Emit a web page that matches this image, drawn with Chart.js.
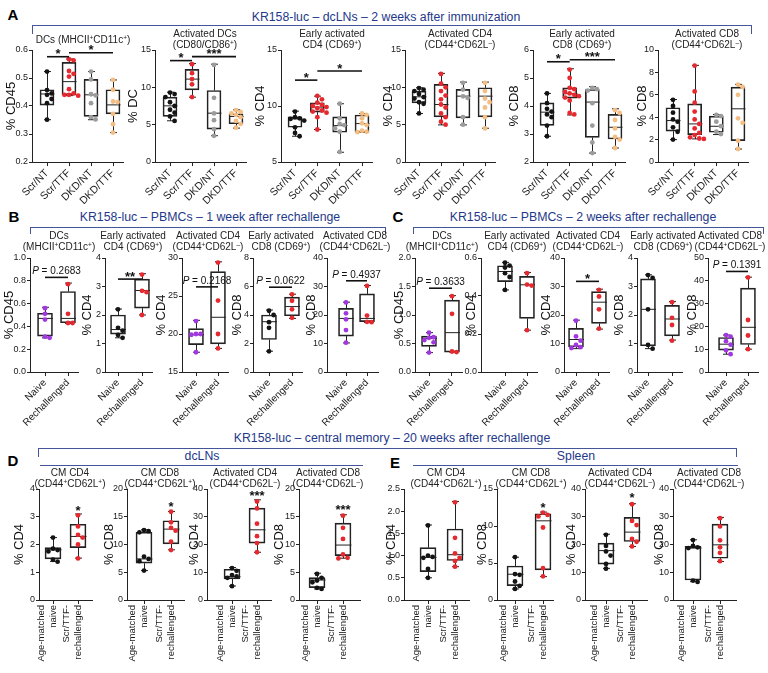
<!DOCTYPE html>
<html>
<head>
<meta charset="utf-8">
<script src="https://cdn.jsdelivr.net/npm/chart.js@4"></script>
<style>
  body { margin: 0; background: #fff; }
  #fig { position: relative; width: 768px; height: 673px; overflow: hidden;
         font-family: "Liberation Sans", Arial, sans-serif; }
  #fig canvas { position: absolute; }
  .t { position: absolute; white-space: nowrap; transform: translate(-50%, -50%); text-align: center; }
  .sub { font-size: 10px; line-height: 11px; color: #222; }
  .head { font-size: 12.3px; color: #24388a; }
  .let { font-size: 15px; font-weight: bold; color: #000; }
  .ln { position: absolute; background: #44559a; }
  sup { font-size: 6.5px; vertical-align: 3px; line-height: 0; }
</style>
</head>
<body>
<div id="fig"></div>
<script>
// ---- group labels ----
const groupsA = ['Scr/NT', 'Scr/TTF', 'DKD/NT', 'DKD/TTF'];
const groupsBC = ['Naive', 'Rechallenged'];
const groupsDE = [['Age-matched', 'naive'], ['Scr/TTF-', 'rechallenged']];

// ---- A: dcLNs, 2 weeks after immunization ----  box = [min, q1, median, q3, max]
const a1Ticks = ['0.2', '0.3', '0.4', '0.5', '0.6'];
const a1Box = [[0.351, 0.403, 0.443, 0.458, 0.523], [0.437, 0.44, 0.487, 0.556, 0.568],
               [0.351, 0.363, 0.44, 0.495, 0.523], [0.305, 0.372, 0.404, 0.458, 0.493]];
const a1Pts = [[0.523, 0.457, 0.445, 0.44, 0.425, 0.41, 0.351],
               [0.567, 0.563, 0.525, 0.515, 0.505, 0.46, 0.445, 0.44, 0.44, 0.437],
               [0.523, 0.495, 0.442, 0.438, 0.41, 0.36, 0.352],
               [0.493, 0.458, 0.416, 0.414, 0.372, 0.335, 0.305]];
const a1Sig = [[1, 2, 0.576, '*'], [2, 4, 0.59, '*']];

const a2Ticks = ['0', '5', '10', '15'];
const a2Box = [[5.52, 6.1, 7.52, 8.68, 9.35], [8.68, 9.66, 11.1, 12.4, 13.2],
               [3.52, 4.41, 6.54, 9.57, 13.1], [4.54, 5.12, 6.1, 6.46, 6.99]];
const a2Pts = [[9.3, 9.1, 8.7, 8.0, 7.5, 7.0, 6.6, 6.1, 5.5], [13.1, 11.9, 11.1, 10.4, 8.7],
               [13.0, 8.6, 6.5, 5.6, 4.4, 3.5], [6.95, 6.7, 6.5, 6.3, 6.0, 5.5, 5.1, 4.6]];
const a2Sig = [[1, 2, 13.58, '*'], [2, 4, 14.11, '***']];

const a3Ticks = ['5', '10', '15'];
const a3Box = [[7.3, 8.1, 8.85, 9.03, 9.54], [7.9, 9.45, 9.9, 10.28, 10.88],
               [5.87, 7.66, 8.25, 9.03, 10.2], [7.66, 7.66, 8.43, 9.2, 9.33]];
const a3Pts = [[9.5, 9.0, 8.9, 8.85, 8.7, 8.1, 7.6, 7.3],
               [10.9, 10.6, 10.3, 10.1, 10.0, 9.9, 9.8, 9.6, 9.5, 9.4, 9.0, 7.9],
               [10.2, 8.9, 8.4, 8.3, 8.0, 7.7, 5.9], [9.33, 9.2, 8.9, 8.45, 8.3, 7.8, 7.7, 7.66]];
const a3Sig = [[1, 2, 12.31, '*'], [2, 4, 13.12, '*']];

const a4Ticks = ['0', '5', '10', '15'];
const a4Box = [[6.49, 7.92, 8.73, 9.49, 9.94], [4.97, 6.04, 7.7, 10.39, 11.87],
               [4.97, 5.91, 8.82, 9.72, 10.7], [4.52, 6.04, 8.82, 9.94, 10.7]];
const a4Pts = [[9.9, 9.7, 9.5, 9.1, 8.7, 8.5, 8.0, 7.8, 6.5],
               [11.8, 10.5, 10.0, 9.5, 8.9, 8.4, 7.7, 7.3, 6.5, 6.0, 5.4, 5.0],
               [10.6, 9.7, 8.8, 8.6, 6.0, 5.0], [10.6, 9.5, 8.5, 8.0, 7.3, 6.0, 4.5]];
const a4Sig = [];

const a5Ticks = ['2', '3', '4', '5', '6'];
const a5Box = [[2.92, 3.31, 3.78, 4.11, 4.45], [3.68, 4.28, 4.44, 4.65, 5.33],
               [2.32, 2.88, 4.14, 4.59, 4.69], [2.5, 2.82, 3.24, 3.7, 3.9]];
const a5Pts = [[4.45, 4.1, 3.9, 3.8, 3.7, 3.6, 3.3, 2.92],
               [5.3, 5.0, 4.65, 4.6, 4.5, 4.45, 4.4, 4.35, 4.3, 4.2, 3.75, 3.7],
               [4.65, 4.6, 4.55, 4.1, 3.3, 2.7, 2.32], [3.85, 3.75, 3.5, 3.2, 2.9, 2.8, 2.5]];
const a5Sig = [[1, 2, 5.58, '*'], [2, 4, 5.65, '***']];

const a6Ticks = ['0', '2', '4', '6', '8', '10'];
const a6Box = [[2.0, 2.75, 3.7, 4.84, 5.58], [2.06, 2.45, 3.4, 5.19, 8.63],
               [2.45, 2.66, 3.19, 4.09, 4.24], [1.16, 1.91, 4.75, 6.69, 6.93]];
const a6Pts = [[5.55, 5.0, 4.4, 3.8, 3.6, 3.1, 2.7, 2.0],
               [8.6, 6.3, 5.3, 4.5, 3.8, 3.4, 3.0, 2.6, 2.4, 2.2, 2.1, 2.06],
               [4.2, 4.1, 3.6, 3.2, 2.7, 2.5], [6.9, 6.7, 6.0, 3.9, 3.5, 1.9, 1.16]];
const a6Sig = [];

// ---- B: PBMCs, 1 week after rechallenge ----
const b1Ticks = ['0.0', '0.2', '0.4', '0.6', '0.8', '1.0'];
const b1Box = [[0.3, 0.315, 0.47, 0.515, 0.568], [0.426, 0.432, 0.47, 0.706, 0.78]];
const b1Pts = [[0.56, 0.51, 0.46, 0.31, 0.3], [0.77, 0.51, 0.43, 0.43]];
const b1Sig = [[1, 2, 0.83, 'P = 0.2683']];

const b2Ticks = ['0', '1', '2', '3', '4'];
const b2Box = [[1.2, 1.33, 1.49, 2.0, 2.21], [2.0, 2.24, 2.86, 3.26, 3.45]];
const b2Pts = [[2.2, 1.55, 1.45, 1.3, 1.2], [3.42, 2.85, 2.8, 2.0]];
const b2Sig = [[1, 2, 3.26, '**']];

const b3Ticks = ['15', '20', '25', '30'];
const b3Box = [[17.6, 18.6, 19.9, 20.7, 21.8], [18.1, 18.7, 22.2, 28.2, 29.5]];
const b3Pts = [[21.7, 20.0, 20.0, 19.9, 17.6], [29.4, 24.4, 20.0, 18.1]];
const b3Sig = [[1, 2, 26.2, 'P = 0.2168']];

const b4Ticks = ['0', '2', '4', '6', '8'];
const b4Box = [[1.46, 2.28, 3.53, 4.0, 4.35], [3.76, 3.95, 4.59, 5.25, 5.46]];
const b4Pts = [[4.3, 4.0, 3.5, 3.1, 1.45], [5.45, 5.0, 4.4, 3.8]];
const b4Sig = [[1, 2, 5.95, 'P = 0.0622']];

const b5Ticks = ['0', '10', '20', '30', '40'];
const b5Box = [[10.2, 12.6, 18.8, 22.35, 24.5], [17.4, 17.65, 18.8, 27.4, 30.35]];
const b5Pts = [[24.4, 20.6, 18.5, 14.7, 10.3], [30.2, 19.8, 17.6, 17.5]];
const b5Sig = [[1, 2, 32.0, 'P = 0.4937']];

// ---- C: PBMCs, 2 weeks after rechallenge ----
const c1Ticks = ['0.0', '0.5', '1.0', '1.5', '2.0'];
const c1Box = [[0.34, 0.45, 0.59, 0.63, 0.69], [0.35, 0.35, 0.69, 1.26, 1.34]];
const c1Pts = [[0.69, 0.61, 0.6, 0.56, 0.52, 0.34], [1.33, 1.02, 0.36, 0.35]];
const c1Sig = [[1, 2, 1.47, 'P = 0.3633']];

const c2Ticks = ['0.0', '0.2', '0.4', '0.6'];
const c2Box = [[0.432, 0.476, 0.529, 0.559, 0.577], [0.22, 0.282, 0.459, 0.503, 0.524]];
const c2Pts = [[0.575, 0.56, 0.55, 0.52, 0.5, 0.432], [0.52, 0.46, 0.455, 0.22]];
const c2Sig = [];

const c3Ticks = ['0', '10', '20', '30', '40'];
const c3Box = [[8.2, 8.8, 11.4, 15.3, 18.2], [15.06, 17.06, 24.5, 28.2, 29.06]];
const c3Pts = [[18.0, 12.5, 11.0, 9.5, 8.7, 8.4], [28.8, 26.5, 22.0, 15.2]];
const c3Sig = [[1, 2, 31.8, '*']];

const c4Ticks = ['0', '1', '2', '3', '4'];
const c4Box = [[0.82, 0.92, 2.2, 3.27, 3.41], [1.12, 1.27, 1.86, 2.34, 2.47]];
const c4Pts = [[3.4, 3.3, 2.2, 0.95, 0.82], [2.45, 1.9, 1.65, 1.1]];
const c4Sig = [];

const c5Ticks = ['0', '10', '20', '30', '40', '50'];
const c5Box = [[7.8, 9.56, 12.2, 15.15, 16.2], [10.0, 12.06, 19.6, 36.8, 41.6]];
const c5Pts = [[16.2, 15.5, 13.5, 12.0, 9.5, 7.8], [41.5, 22.8, 16.0, 10.0]];
const c5Sig = [[1, 2, 44.1, 'P = 0.1391']];

// ---- D: central memory, dcLNs ----
const d1Ticks = ['0', '1', '2', '3', '4'];
const d1Box = [[1.39, 1.48, 1.81, 1.89, 2.25], [1.51, 1.89, 2.29, 2.73, 3.1]];
const d1Pts = [[2.25, 1.85, 1.8, 1.75, 1.45, 1.38], [3.05, 2.65, 2.35, 2.25, 2.0, 1.5]];
const d1Sig = [[2, 2, 3.3, '*']];

const d2Ticks = ['0', '5', '10', '15', '20'];
const d2Box = [[5.3, 6.63, 7.4, 12.2, 12.65], [9.04, 10.12, 12.77, 14.28, 15.96]];
const d2Pts = [[12.6, 12.4, 12.2, 7.8, 7.4, 7.0, 5.3], [15.9, 14.0, 13.0, 12.5, 10.5, 9.0]];
const d2Sig = [[2, 2, 17.3, '*']];

const d3Ticks = ['0', '10', '20', '30', '40'];
const d3Box = [[5.06, 7.6, 8.43, 11.08, 11.7], [17.2, 20.5, 25.3, 33.1, 36.1]];
const d3Pts = [[11.5, 10.5, 9.0, 8.5, 8.0, 5.0], [35.5, 33.0, 27.5, 23.0, 20.5, 17.2]];
const d3Sig = [[2, 2, 38.5, '***']];

const d4Ticks = ['0', '5', '10', '15', '20'];
const d4Box = [[1.99, 2.23, 3.6, 4.04, 4.82], [7.53, 8.0, 9.9, 13.86, 15.36]];
const d4Pts = [[4.7, 4.0, 3.5, 3.2, 2.2, 2.0], [15.2, 13.0, 11.0, 8.2, 7.6, 7.5]];
const d4Sig = [[2, 2, 16.7, '***']];

// ---- E: central memory, spleen ----
const e1Ticks = ['0.0', '0.5', '1.0', '1.5', '2.0', '2.5'];
const e1Box = [[0.5, 0.64, 0.96, 1.18, 1.69], [0.75, 0.89, 1.02, 1.6, 2.22]];
const e1Pts = [[1.68, 1.0, 0.97, 0.95, 0.7, 0.5], [2.2, 1.4, 1.05, 0.95, 0.88, 0.75]];
const e1Sig = [];

const e2Ticks = ['0', '5', '10', '15'];
const e2Box = [[1.49, 1.94, 3.48, 4.6, 5.78], [3.16, 4.07, 10.7, 11.66, 11.88]];
const e2Pts = [[5.8, 3.5, 3.4, 2.5, 1.9, 1.5], [11.8, 11.5, 11.3, 9.8, 4.3, 3.2]];
const e2Sig = [[2, 2, 12.9, '*']];

const e3Ticks = ['0', '10', '20', '30', '40'];
const e3Box = [[11.4, 12.9, 17.8, 20.5, 23.7], [19.28, 21.08, 24.46, 29.76, 34.7]];
const e3Pts = [[23.5, 19.5, 17.5, 16.0, 13.0, 11.3], [34.5, 28.5, 27.0, 22.0, 21.0, 19.3]];
const e3Sig = [[2, 2, 38, '*']];

const e4Ticks = ['0', '10', '20', '30', '40'];
const e4Box = [[6.6, 7.2, 18.7, 19.3, 21.7], [13.86, 15.06, 19.88, 27.35, 29.76]];
const e4Pts = [[21.6, 19.5, 19.0, 18.7, 7.0, 6.5], [29.5, 26.5, 21.5, 19.0, 17.0, 14.0]];
const e4Sig = [];

// ---- colours ----
const BLACK = '#141414', RED = '#e6282f', GREY = '#9c9c9c', TAN = '#f3bd83', PURPLE = '#a236e0';
const colA = [BLACK, RED, GREY, TAN];
const colP = [PURPLE, RED];
const colK = [BLACK, RED];

// ---- panel table: data refs + where each small chart sits ----
const rowA = { T: 50, B: 162, rot: 45, xf: 10.5, XH: 42, bw: 14, groups: groupsA, ty: 38.5 };
const rowBC = { T: 258, B: 372, rot: 45, xf: 10, XH: 62, bw: 15, groups: groupsBC, ty: 240.5 };
const rowDE = { T: 489, B: 600, rot: 90, xf: 9.5, XH: 72, bw: 16, groups: groupsDE, ty: 477.5 };

const CD44m = '(CD44<sup>+</sup>CD62L<sup>–</sup>)', CD44p = '(CD44<sup>+</sup>CD62L<sup>+</sup>)';
const panels = [
  { row: rowA, L: 32, R: 123, c1: 47, cN: 113, tx: 12, yt: '% CD45', ticks: a1Ticks, box: a1Box, pts: a1Pts, sig: a1Sig, col: colA,
    title: 'DCs (MHCII<sup>+</sup>CD11c<sup>+</sup>)', hx: 83, hy: 39 },
  { row: rowA, L: 155, R: 246, c1: 170, cN: 236, tx: 134, yt: '% DC', ticks: a2Ticks, box: a2Box, pts: a2Pts, sig: a2Sig, col: colA,
    title: 'Activated DCs<br>(CD80/CD86<sup>+</sup>)', hx: 205 },
  { row: rowA, L: 281, R: 372, c1: 295, cN: 362, tx: 261, yt: '% CD4', ticks: a3Ticks, box: a3Box, pts: a3Pts, sig: a3Sig, col: colA,
    title: 'Early activated<br>CD4 (CD69<sup>+</sup>)', hx: 332 },
  { row: rowA, L: 405, R: 495, c1: 419, cN: 485, tx: 389, yt: '% CD4', ticks: a4Ticks, box: a4Box, pts: a4Pts, sig: a4Sig, col: colA,
    title: 'Activated CD4<br>' + CD44m, hx: 460 },
  { row: rowA, L: 533, R: 625, c1: 547, cN: 615, tx: 515, yt: '% CD8', ticks: a5Ticks, box: a5Box, pts: a5Pts, sig: a5Sig, col: colA,
    title: 'Early activated<br>CD8 (CD69<sup>+</sup>)', hx: 582 },
  { row: rowA, L: 658, R: 748, c1: 673, cN: 738, tx: 643, yt: '% CD8', ticks: a6Ticks, box: a6Box, pts: a6Pts, sig: a6Sig, col: colA,
    title: 'Activated CD8<br>' + CD44m, hx: 707 },

  { row: rowBC, L: 30, R: 78, c1: 45, cN: 68, tx: 10, yt: '% CD45', ticks: b1Ticks, box: b1Box, pts: b1Pts, sig: b1Sig, col: colP,
    title: 'DCs<br>(MHCII<sup>+</sup>CD11c<sup>+</sup>)', hx: 59 },
  { row: rowBC, L: 105, R: 152, c1: 118, cN: 142, tx: 88, yt: '% CD4', ticks: b2Ticks, box: b2Box, pts: b2Pts, sig: b2Sig, col: colK,
    title: 'Early activated<br>CD4 (CD69<sup>+</sup>)', hx: 133 },
  { row: rowBC, L: 182, R: 228, c1: 196, cN: 218, tx: 162, yt: '% CD4', ticks: b3Ticks, box: b3Box, pts: b3Pts, sig: b3Sig, col: colP,
    title: 'Activated CD4<br>' + CD44m, hx: 208 },
  { row: rowBC, L: 253, R: 302, c1: 269, cN: 292, tx: 238, yt: '% CD8', ticks: b4Ticks, box: b4Box, pts: b4Pts, sig: b4Sig, col: colK,
    title: 'Early activated<br>CD8 (CD69<sup>+</sup>)', hx: 281 },
  { row: rowBC, L: 327, R: 378, c1: 346, cN: 367, tx: 312, yt: '% CD8', ticks: b5Ticks, box: b5Box, pts: b5Pts, sig: b5Sig, col: colP,
    title: 'Activated CD8<br>' + CD44m, hx: 355 },

  { row: rowBC, L: 415, R: 462, c1: 429, cN: 452, tx: 400, yt: '% CD45', ticks: c1Ticks, box: c1Box, pts: c1Pts, sig: c1Sig, col: colP,
    title: 'DCs<br>(MHCII<sup>+</sup>CD11c<sup>+</sup>)', hx: 442 },
  { row: rowBC, L: 481, R: 537, c1: 505, cN: 527, tx: 472, yt: '% CD4', ticks: c2Ticks, box: c2Box, pts: c2Pts, sig: c2Sig, col: colK,
    title: 'Early activated<br>CD4 (CD69<sup>+</sup>)', hx: 517 },
  { row: rowBC, L: 564, R: 609, c1: 576, cN: 599, tx: 547, yt: '% CD4', ticks: c3Ticks, box: c3Box, pts: c3Pts, sig: c3Sig, col: colP,
    title: 'Activated CD4<br>' + CD44m, hx: 588 },
  { row: rowBC, L: 637, R: 682, c1: 648, cN: 672, tx: 620, yt: '% CD8', ticks: c4Ticks, box: c4Box, pts: c4Pts, sig: c4Sig, col: colK,
    title: 'Early activated<br>CD8 (CD69<sup>+</sup>)', hx: 663 },
  { row: rowBC, L: 708, R: 758, c1: 726, cN: 748, tx: 693, yt: '% CD8', ticks: c5Ticks, box: c5Box, pts: c5Pts, sig: c5Sig, col: colP,
    title: 'Activated CD8<br>' + CD44m, hx: 730 },

  { row: rowDE, L: 39, R: 92, c1: 53, cN: 78, tx: 20, yt: '% CD4', ticks: d1Ticks, box: d1Box, pts: d1Pts, sig: d1Sig, col: colK,
    title: 'CM CD4<br>' + CD44p, hx: 70 },
  { row: rowDE, L: 127, R: 184, c1: 144, cN: 171, tx: 110, yt: '% CD8', ticks: d2Ticks, box: d2Box, pts: d2Pts, sig: d2Sig, col: colK,
    title: 'CM CD8<br>' + CD44p, hx: 160 },
  { row: rowDE, L: 207, R: 271, c1: 232, cN: 257, tx: 195, yt: '% CD4', ticks: d3Ticks, box: d3Box, pts: d3Pts, sig: d3Sig, col: colK,
    title: 'Activated CD4<br>' + CD44m, hx: 245 },
  { row: rowDE, L: 299, R: 360, c1: 317, cN: 343, tx: 280, yt: '% CD8', ticks: d4Ticks, box: d4Box, pts: d4Pts, sig: d4Sig, col: colK,
    title: 'Activated CD8<br>' + CD44m, hx: 328 },
  { row: rowDE, L: 404, R: 469, c1: 428, cN: 455, tx: 392, yt: '% CD4', ticks: e1Ticks, box: e1Box, pts: e1Pts, sig: e1Sig, col: colK,
    title: 'CM CD4<br>' + CD44p, hx: 446 },
  { row: rowDE, L: 497, R: 553, c1: 515, cN: 543, tx: 483, yt: '% CD8', ticks: e2Ticks, box: e2Box, pts: e2Pts, sig: e2Sig, col: colK,
    title: 'CM CD8<br>' + CD44p, hx: 531 },
  { row: rowDE, L: 585, R: 647, c1: 606, cN: 632, tx: 572, yt: '% CD4', ticks: e3Ticks, box: e3Box, pts: e3Pts, sig: e3Sig, col: colK,
    title: 'Activated CD4<br>' + CD44m, hx: 620 },
  { row: rowDE, L: 673, R: 736, c1: 693, cN: 720, tx: 660, yt: '% CD8', ticks: e4Ticks, box: e4Box, pts: e4Pts, sig: e4Sig, col: colK,
    title: 'Activated CD8<br>' + CD44m, hx: 709 }
];

// headers, panel letters and brackets
const heads = [
  ['let', 'A', 13, 14], ['let', 'B', 14, 216], ['let', 'C', 398, 216], ['let', 'D', 13, 460], ['let', 'E', 395, 462],
  ['head', 'KR158-luc – dcLNs – 2 weeks after immunization', 386, 17],
  ['head', 'KR158-luc – PBMCs – 1 week after rechallenge', 210, 217],
  ['head', 'KR158-luc – PBMCs – 2 weeks after rechallenge', 583, 217],
  ['head', 'KR158-luc – central memory – 20 weeks after rechallenge', 392, 438],
  ['head', 'dcLNs', 202, 456], ['head', 'Spleen', 576, 456]
];
// [x1, x2, y, drop]
const brackets = [[32, 752, 25, 9], [30, 386, 227, 7], [413, 764, 227, 7], [38, 737, 448, 9],
                  [40, 363, 465, 0], [413, 738, 465, 0]];

const FONT = '"Liberation Sans", Arial, sans-serif';
Chart.defaults.font.family = FONT;
Chart.defaults.color = '#1a1a1a';
const fig = document.getElementById('fig');

function addText(cls, html, x, y) {
  const d = document.createElement('div');
  d.className = 't ' + cls;
  d.innerHTML = html;
  d.style.left = x + 'px';
  d.style.top = y + 'px';
  fig.append(d);
}
function addLine(x, y, w, h) {
  const d = document.createElement('div');
  d.className = 'ln';
  Object.assign(d.style, { left: x + 'px', top: y + 'px', width: w + 'px', height: h + 'px' });
  fig.append(d);
}

heads.forEach(h => addText(h[0], h[1], h[2], h[3]));
brackets.forEach(([x1, x2, y, drop]) => {
  addLine(x1, y, x2 - x1, 1.3);
  if (drop) { addLine(x1, y, 1.3, drop); addLine(x2 - 1, y, 1.3, drop); }
});

// spread points sideways so that they do not overlap (pixel based)
function swarm(vals, pxY, d) {
  const placed = [];
  return vals.map(v => {
    const py = v * pxY;
    for (let k = 0; k < 30; k++) {
      const off = (k % 2 ? 1 : -1) * Math.ceil(k / 2) * d;
      if (placed.every(p => (p[0] - off) ** 2 + (p[1] - py) ** 2 >= d * d)) {
        placed.push([off, py]);
        return off;
      }
    }
    return 0;
  });
}

// whiskers, medians and significance marks, drawn through the chart scales
const boxPlugin = {
  id: 'boxes',
  beforeDatasetsDraw(chart, args, o) {
    const { ctx, scales: { x, y } } = chart;
    const half = o.bw / 2, cap = 3.5;
    ctx.save();
    ctx.strokeStyle = '#222';
    ctx.lineWidth = 1;
    o.stats.forEach((s, i) => {
      const px = Math.round(x.getPixelForValue(i + 1)) + 0.5;
      const [lo, q1, med, q3, hi] = s.map(v => y.getPixelForValue(v));
      ctx.beginPath();
      ctx.moveTo(px, q1); ctx.lineTo(px, lo);
      ctx.moveTo(px - cap, lo); ctx.lineTo(px + cap, lo);
      ctx.moveTo(px, q3); ctx.lineTo(px, hi);
      ctx.moveTo(px - cap, hi); ctx.lineTo(px + cap, hi);
      ctx.moveTo(px - half, med); ctx.lineTo(px + half, med);
      ctx.stroke();
    });
    ctx.restore();
  },
  afterDraw(chart, args, o) {
    const { ctx, scales: { x, y } } = chart;
    ctx.save();
    ctx.fillStyle = '#111';
    ctx.strokeStyle = '#111';
    ctx.lineWidth = 1.6;
    o.sig.forEach(([a, b, v, label]) => {
      const xa = x.getPixelForValue(a), xb = x.getPixelForValue(b), py = y.getPixelForValue(v);
      const mid = (xa + xb) / 2;
      if (a !== b) {
        ctx.beginPath();
        ctx.moveTo(xa, py); ctx.lineTo(xb, py);
        ctx.stroke();
      }
      ctx.textBaseline = 'alphabetic';
      if (label.startsWith('P')) {
        // italic P followed by the value
        const rest = label.slice(1);
        ctx.font = 'italic 10px ' + FONT;
        const wP = ctx.measureText('P').width;
        ctx.font = '10px ' + FONT;
        const wR = ctx.measureText(rest).width;
        const x0 = mid - (wP + wR) / 2;
        ctx.textAlign = 'left';
        ctx.font = 'italic 10px ' + FONT;
        ctx.fillText('P', x0, py - 3);
        ctx.font = '10px ' + FONT;
        ctx.fillText(rest, x0 + wP, py - 3);
      } else {
        ctx.font = 'bold 13px ' + FONT;
        ctx.textAlign = 'center';
        // asterisk glyph sits ~7px above the baseline
        ctx.fillText(label, mid, a !== b ? py + 1.5 : py + 7);
      }
    });
    ctx.restore();
  }
};

const PADT = 10;
panels.forEach(p => {
  const r = p.row;
  const n = p.box.length;
  const step = (p.cN - p.c1) / (n - 1);
  const xmin = 1 - (p.c1 - p.L) / step;
  const xmax = n + (p.R - p.cN) / step;
  const tickVals = p.ticks.map(Number);
  const ymin = tickVals[0], ymax = tickVals[tickVals.length - 1];
  const pxY = (r.B - r.T) / (ymax - ymin);

  const cLeft = Math.round(p.tx - 7.8);
  const yw = p.L - cLeft;
  const W = yw + (p.R - p.L) + 10;
  const H = PADT + (r.B - r.T) + r.XH;

  const cv = document.createElement('canvas');
  cv.width = W; cv.height = H;
  cv.style.left = cLeft + 'px';
  cv.style.top = (r.T - PADT) + 'px';
  cv.style.width = W + 'px';
  cv.style.height = H + 'px';
  fig.append(cv);

  addText('sub', p.title, p.hx, p.hy || r.ty);

  const pointSets = p.pts.map((vals, i) => {
    const offs = swarm(vals, pxY, 4.6);
    return {
      type: 'scatter',
      order: 0,
      data: vals.map((v, j) => ({ x: i + 1 + offs[j] / step, y: v })),
      pointRadius: 2.4,
      pointBorderWidth: 0,
      pointBackgroundColor: p.col[i],
      pointBorderColor: p.col[i],
      pointHoverRadius: 0,
      clip: false
    };
  });

  const lh = r.xf * 1.2;
  new Chart(cv, {
    type: 'scatter',
    data: {
      datasets: [
        ...pointSets,
        {
          type: 'bar',
          order: 1,
          data: p.box.map((s, i) => ({ x: i + 1, y: [s[1], s[3]] })),
          backgroundColor: 'rgba(255,255,255,0)',
          borderColor: '#222',
          borderWidth: 1,
          borderSkipped: false,
          barThickness: r.bw,
          grouped: true
        }
      ]
    },
    options: {
      responsive: false,
      animation: false,
      devicePixelRatio: 1,
      events: [],
      layout: { padding: { top: PADT, left: 0, right: 10, bottom: 0 } },
      plugins: {
        legend: { display: false },
        tooltip: { enabled: false },
        boxes: { stats: p.box, sig: p.sig, bw: r.bw }
      },
      scales: {
        x: {
          type: 'linear',
          min: xmin, max: xmax,
          offset: false,
          afterBuildTicks: s => { s.ticks = r.groups.map((g, i) => ({ value: i + 1 })); },
          afterFit: s => { s.height = r.XH; s.paddingLeft = 0; s.paddingRight = 0; },
          border: { display: true, color: '#222', width: 1 },
          grid: { display: true, drawOnChartArea: false, drawTicks: true, tickLength: 4, color: '#222', offset: false },
          ticks: {
            autoSkip: false,
            minRotation: r.rot, maxRotation: r.rot,
            padding: 1,
            labelOffset: r.rot === 90 ? -lh : 0,
            font: { size: r.xf },
            color: '#1a1a1a',
            callback: v => r.groups[Math.round(v) - 1]
          }
        },
        y: {
          type: 'linear',
          min: ymin, max: ymax,
          afterBuildTicks: s => { s.ticks = tickVals.map(v => ({ value: v })); },
          afterFit: s => { s.width = yw; s.paddingTop = 0; s.paddingBottom = 0; },
          border: { display: true, color: '#222', width: 1 },
          grid: { display: true, drawOnChartArea: false, drawTicks: true, tickLength: 3, color: '#222' },
          ticks: {
            padding: 1,
            font: { size: 9 },
            color: '#1a1a1a',
            callback: (v, i) => p.ticks[i]
          },
          title: { display: true, text: p.yt, font: { size: 13 }, padding: 0, color: '#111' }
        }
      }
    },
    plugins: [boxPlugin]
  });
});
</script>
</body>
</html>
